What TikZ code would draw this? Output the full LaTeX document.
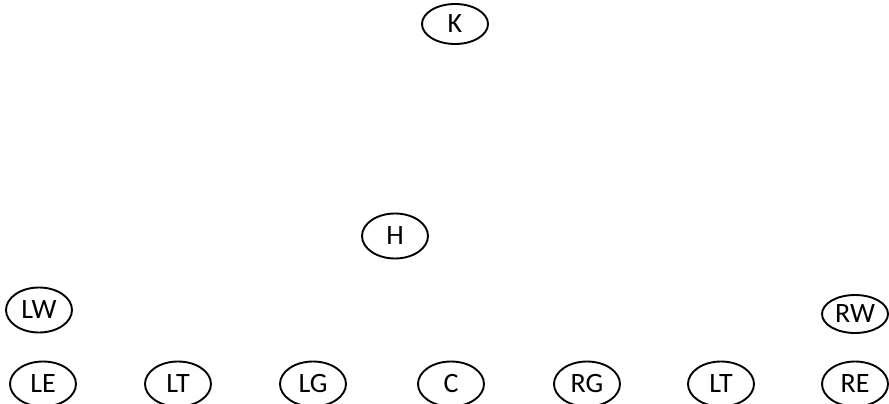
\documentclass[tikz,border=0pt]{standalone}
\usepackage{fontspec}
\setmainfont{Carlito}
\usepackage{tikz}
\usetikzlibrary{shapes.geometric}

\begin{document}
\begin{tikzpicture}[x=1pt, y=-1pt, every node/.style={ellipse, draw, line width=1.9pt, minimum width=66pt, minimum height=45pt, inner sep=0pt, font=\fontsize{28}{28}\selectfont}]
  \useasboundingbox (0, 0) rectangle (889, 404);
  \node[minimum height=40pt] (k) at (455, 24) {K};
  \node (h) at (395, 236) {H};
  \node (lw) at (39, 310) {LW};
  \node[minimum height=38pt] (rw) at (855, 314) {RW};
  \node (le) at (43, 384) {LE};
  \node (lt1) at (178, 384) {LT};
  \node (lg) at (313, 384) {LG};
  \node (c) at (451, 384) {C};
  \node (rg) at (587, 384) {RG};
  \node (lt2) at (721, 384) {LT};
  \node (re) at (855, 384) {RE};
\end{tikzpicture}
\end{document}
